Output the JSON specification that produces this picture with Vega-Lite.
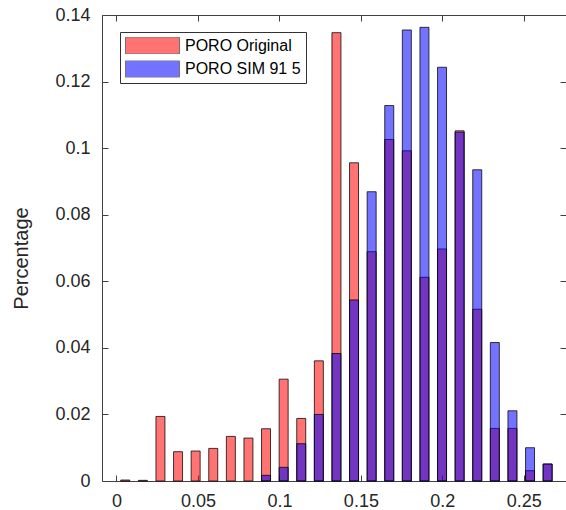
{
  "$schema": "https://vega.github.io/schema/vega-lite/v6.json",
  "autosize": {"type": "none"},
  "padding": {"left": 102, "top": 15, "right": 0, "bottom": 29},
  "width": 464,
  "height": 466,
  "background": "white",
  "config": {
    "font": "Liberation Sans",
    "view": {"stroke": "#404040", "strokeWidth": 1},
    "axis": {
      "grid": false,
      "domain": false,
      "tickSize": -6,
      "tickColor": "#404040",
      "tickWidth": 1,
      "labelFont": "Liberation Sans",
      "labelFontSize": 18,
      "labelColor": "#262626",
      "titleFont": "Liberation Sans",
      "titleFontWeight": "normal",
      "titleColor": "#262626"
    }
  },
  "data": {
    "values": [
      {"poro": 0.0054, "pct": 0.0003, "series": "PORO Original"},
      {"poro": 0.0162, "pct": 0.0002, "series": "PORO Original"},
      {"poro": 0.0270, "pct": 0.0194, "series": "PORO Original"},
      {"poro": 0.0378, "pct": 0.0088, "series": "PORO Original"},
      {"poro": 0.0486, "pct": 0.0090, "series": "PORO Original"},
      {"poro": 0.0594, "pct": 0.0098, "series": "PORO Original"},
      {"poro": 0.0702, "pct": 0.0134, "series": "PORO Original"},
      {"poro": 0.0810, "pct": 0.0129, "series": "PORO Original"},
      {"poro": 0.0918, "pct": 0.0157, "series": "PORO Original"},
      {"poro": 0.1026, "pct": 0.0306, "series": "PORO Original"},
      {"poro": 0.1134, "pct": 0.0188, "series": "PORO Original"},
      {"poro": 0.1242, "pct": 0.0361, "series": "PORO Original"},
      {"poro": 0.1350, "pct": 0.1347, "series": "PORO Original"},
      {"poro": 0.1458, "pct": 0.0956, "series": "PORO Original"},
      {"poro": 0.1566, "pct": 0.0689, "series": "PORO Original"},
      {"poro": 0.1674, "pct": 0.1026, "series": "PORO Original"},
      {"poro": 0.1782, "pct": 0.0992, "series": "PORO Original"},
      {"poro": 0.1890, "pct": 0.0612, "series": "PORO Original"},
      {"poro": 0.1998, "pct": 0.0697, "series": "PORO Original"},
      {"poro": 0.2106, "pct": 0.1052, "series": "PORO Original"},
      {"poro": 0.2214, "pct": 0.0516, "series": "PORO Original"},
      {"poro": 0.2322, "pct": 0.0158, "series": "PORO Original"},
      {"poro": 0.2430, "pct": 0.0158, "series": "PORO Original"},
      {"poro": 0.2538, "pct": 0.0031, "series": "PORO Original"},
      {"poro": 0.2646, "pct": 0.0051, "series": "PORO Original"},
      {"poro": 0.0918, "pct": 0.0017, "series": "PORO SIM 91 5"},
      {"poro": 0.1026, "pct": 0.0041, "series": "PORO SIM 91 5"},
      {"poro": 0.1134, "pct": 0.0112, "series": "PORO SIM 91 5"},
      {"poro": 0.1242, "pct": 0.0200, "series": "PORO SIM 91 5"},
      {"poro": 0.1350, "pct": 0.0383, "series": "PORO SIM 91 5"},
      {"poro": 0.1458, "pct": 0.0544, "series": "PORO SIM 91 5"},
      {"poro": 0.1566, "pct": 0.0869, "series": "PORO SIM 91 5"},
      {"poro": 0.1674, "pct": 0.1128, "series": "PORO SIM 91 5"},
      {"poro": 0.1782, "pct": 0.1355, "series": "PORO SIM 91 5"},
      {"poro": 0.1890, "pct": 0.1363, "series": "PORO SIM 91 5"},
      {"poro": 0.1998, "pct": 0.1243, "series": "PORO SIM 91 5"},
      {"poro": 0.2106, "pct": 0.1048, "series": "PORO SIM 91 5"},
      {"poro": 0.2214, "pct": 0.0935, "series": "PORO SIM 91 5"},
      {"poro": 0.2322, "pct": 0.0416, "series": "PORO SIM 91 5"},
      {"poro": 0.2430, "pct": 0.0211, "series": "PORO SIM 91 5"},
      {"poro": 0.2538, "pct": 0.0100, "series": "PORO SIM 91 5"},
      {"poro": 0.2646, "pct": 0.0051, "series": "PORO SIM 91 5"}
    ]
  },
  "layer": [
    {
      "mark": {"type": "bar", "size": 9, "fillOpacity": 0.55, "stroke": "#000000", "strokeWidth": 1, "strokeOpacity": 0.75},
      "encoding": {
        "x": {
          "field": "poro", "type": "quantitative",
          "scale": {"domain": [-0.0058, 0.2728], "nice": false, "zero": false},
          "axis": {"orient": "bottom", "values": [0, 0.05, 0.1, 0.15, 0.2, 0.25], "format": "~g", "title": null, "labelPadding": 17, "labelFlush": false}
        },
        "y": {
          "field": "pct", "type": "quantitative", "stack": null,
          "scale": {"domain": [0, 0.14], "nice": false},
          "axis": {"orient": "left", "values": [0, 0.02, 0.04, 0.06, 0.08, 0.1, 0.12, 0.14], "format": "~g", "title": "Percentage", "titleFontSize": 20, "titlePadding": 23, "titleY": 243, "labelPadding": 18}
        },
        "color": {
          "field": "series", "type": "nominal",
          "scale": {"domain": ["PORO Original", "PORO SIM 91 5"], "range": ["#ff0000", "#0000ff"]},
          "legend": {
            "orient": "none", "legendX": 18, "legendY": 17, "title": null,
            "padding": 5, "strokeColor": "#333333", "fillColor": "#ffffff",
            "symbolType": "M-1,-0.315H1V0.315H-1Z", "symbolSize": 2916,
            "symbolOpacity": 0.55, "symbolStrokeColor": "#000000", "symbolStrokeWidth": 1,
            "labelFont": "Liberation Sans", "labelFontSize": 16, "labelColor": "#000000", "labelOffset": 5,
            "clipHeight": 17,
            "rowPadding": 6.5
          }
        }
      }
    },
    {
      "mark": {"type": "point", "opacity": 0},
      "encoding": {
        "x": {
          "field": "poro", "type": "quantitative",
          "scale": {"domain": [-0.0058, 0.2728], "nice": false, "zero": false},
          "axis": {"orient": "top", "values": [0, 0.05, 0.1, 0.15, 0.2, 0.25], "labels": false, "title": null}
        },
        "y": {
          "field": "pct", "type": "quantitative",
          "scale": {"domain": [0, 0.14], "nice": false},
          "axis": {"orient": "right", "values": [0, 0.02, 0.04, 0.06, 0.08, 0.1, 0.12, 0.14], "labels": false, "title": null}
        }
      }
    }
  ],
  "resolve": {"axis": {"x": "independent", "y": "independent"}}
}
